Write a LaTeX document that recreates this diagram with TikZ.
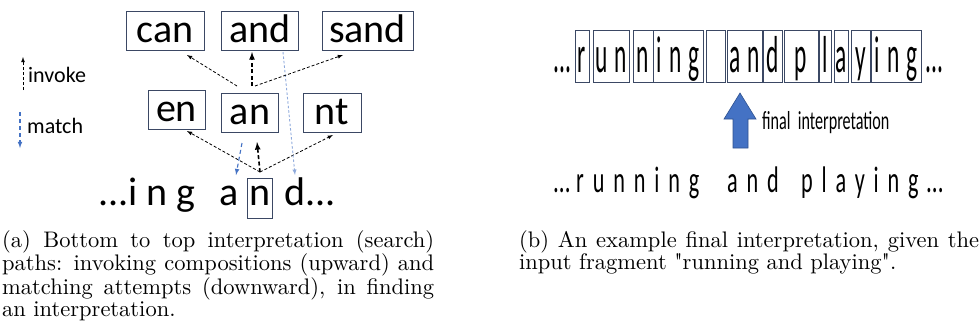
\documentclass[tikz,border=0pt]{standalone}
\usepackage{fontspec}
\newfontfamily\calfont{Carlito}
\newfontfamily\slimfont[FakeStretch=0.45]{Carlito}
\newfontfamily\condfont[FakeStretch=0.62]{Carlito}
\newfontfamily\spacedfont[FakeStretch=0.6,LetterSpace=24]{Carlito}
\newfontfamily\capfont{lmroman10-regular.otf}
\usetikzlibrary{positioning}

\definecolor{boxline}{RGB}{59,72,100}
\definecolor{matchblue}{RGB}{68,114,196}
\definecolor{paleblue}{RGB}{143,170,220}
\definecolor{arrowedge}{RGB}{47,82,143}

\tikzset{
  unitbox/.style={draw=boxline, line width=1pt, inner sep=0pt, anchor=base,
    text height=31pt, text depth=8pt, font=\calfont\fontsize{40}{40}\selectfont},
  segbox/.style={draw=boxline, line width=0.8pt, inner sep=0pt, anchor=base,
    text height=42pt, text depth=10pt, font=\slimfont\fontsize{52}{52}\selectfont},
  lowtext/.style={inner sep=0pt, font=\calfont\fontsize{40}{40}\selectfont},
  plainword/.style={inner sep=0pt, anchor=base west, font=\spacedfont\fontsize{37}{37}\selectfont},
  legend/.style={inner sep=0pt, anchor=base west, font=\calfont\fontsize{22}{22}\selectfont},
  invoke/.style={->, >=latex, dash pattern=on 3pt off 2pt, line width=0.8pt},
  invokebold/.style={invoke, line width=1.6pt, dash pattern=on 4pt off 2.5pt},
  match/.style={->, >=latex, draw=matchblue, dash pattern=on 4pt off 3pt, line width=1.1pt},
  matchpale/.style={match, draw=paleblue, line width=0.9pt, dash pattern=on 2.5pt off 2pt},
  caption/.style={inner sep=0pt, anchor=north west, align=justify, font=\capfont\fontsize{22.5}{22}\selectfont},
}

\begin{document}
\begin{tikzpicture}[x=1pt, y=-1pt]
  \useasboundingbox (0,0) rectangle (979,333);

  % (a) search paths
  \node[unitbox, minimum width=78pt] (can) at (165,42) {can};
  \node[unitbox, minimum width=77pt] (and) at (260,42) {and};
  \node[unitbox, minimum width=91pt] (sand) at (367.5,42) {sand};
  \node[unitbox, minimum width=57pt] (en) at (176.5,121) {en};
  \node[unitbox, minimum width=57pt] (an) at (250,124) {an};
  \node[unitbox, minimum width=58pt] (nt) at (332,124) {nt};

  \node[lowtext, draw=boxline, line width=1pt, anchor=base, text height=27pt, text depth=13pt,
    minimum width=25pt] (n) at (260,205) {n};
  \node[lowtext, left=8pt of n.base west, anchor=base east] (ing) {...i n g\hspace{24pt}a};
  \node[lowtext, right=11pt of n.base east, anchor=base west] (dots) {d...};

  \coordinate (nfan) at (260,172);
  \coordinate (enfoot) at (187,131);
  \coordinate (ntfoot) at (333,135);
  \coordinate (anlift) at (257,142);
  \coordinate (anmatch) at (242,143);
  \coordinate (ainto) at (236,175);
  \coordinate (andfoot) at (283,52);
  \coordinate (dinto) at (295,175);
  \coordinate (anfan) at (252,86);
  \coordinate (canfoot) at (187,55);
  \coordinate (andlift) at (252,52);
  \coordinate (sandfoot) at (343,55);

  \draw[invoke] (nfan) -- (enfoot);
  \draw[invoke] (nfan) -- (ntfoot);
  \draw[invokebold] (nfan) -- (anlift);
  \draw[match] (anmatch) -- (ainto);
  \draw[matchpale] (andfoot) -- (dinto);
  \draw[invoke] ([xshift=-15pt]anfan) -- (canfoot);
  \draw[invokebold] (anfan) -- (andlift);
  \draw[invoke] ([xshift=3pt]anfan) -- (sandfoot);

  % legend
  \node[legend] (invoketxt) at (28,82) {invoke};
  \node[legend] (matchtxt) at (27,133) {match};
  \coordinate (invfoot) at (23,90);
  \coordinate (invhead) at (23,57);
  \coordinate (mattop) at (20,112);
  \coordinate (mathead) at (20,148);
  \draw[invoke] (invfoot) -- (invhead);
  \draw[match] (mattop) -- (mathead);

  % (b) final interpretation
  \foreach \cx/\bw/\txt [count=\i] in {582/14/r, 611/36/{u\hspace{7pt}n}, 643/20/n,
      678/50/{i\hspace{7pt}n\hspace{7pt}g}, 715.5/19/{}, 744.5/35/{a\hspace{7pt}n},
      772.5/19/d, 801/34/p, 825/12/l, 841/14/a, 860.5/19/y,
      896/50/{i\hspace{7pt}n\hspace{7pt}g}}
    \node[segbox, minimum width=\bw pt] (seg\i) at (\cx,72) {\txt};
  \node[segbox, draw=none, left=3pt of seg1.base west, anchor=base east] (lead) {...};
  \node[segbox, draw=none, right=4pt of seg12.base east, anchor=base west] (tail) {...};

  \draw[fill=matchblue, draw=arrowedge, line width=0.6pt]
    (733,148) -- (733,119) -- (724,119) -- (740,93) -- (756,119) -- (748,119) -- (748,148) -- cycle;
  \node[inner sep=0pt, anchor=base west, font=\condfont\fontsize{26}{26}\selectfont]
    (finaltxt) at (762,129) {final\ \ interpretation};

  \node[inner sep=0pt, anchor=base west, font=\condfont\fontsize{37}{37}\selectfont]
    (plainlead) at (553,192) {...};
  \node[plainword] (wrun) at (576,192) {running};
  \node[plainword] (wand) at (727,192) {and};
  \node[plainword] (wplay) at (801,192) {playing};
  \node[inner sep=0pt, anchor=base west, font=\condfont\fontsize{37}{37}\selectfont]
    (plaintail) at (926,192) {...};

  % captions
  \node[caption, text width=432pt] (capa) at (2,230)
    {(a) Bottom to top interpretation (search)\linebreak
     paths: invoking compositions (upward) and\linebreak
     matching attempts (downward), in finding\linebreak
     an interpretation.};
  \node[caption, text width=460pt] (capb) at (519,230)
    {(b) An example final interpretation, given the\linebreak
     input fragment "running and playing".};
\end{tikzpicture}
\end{document}
